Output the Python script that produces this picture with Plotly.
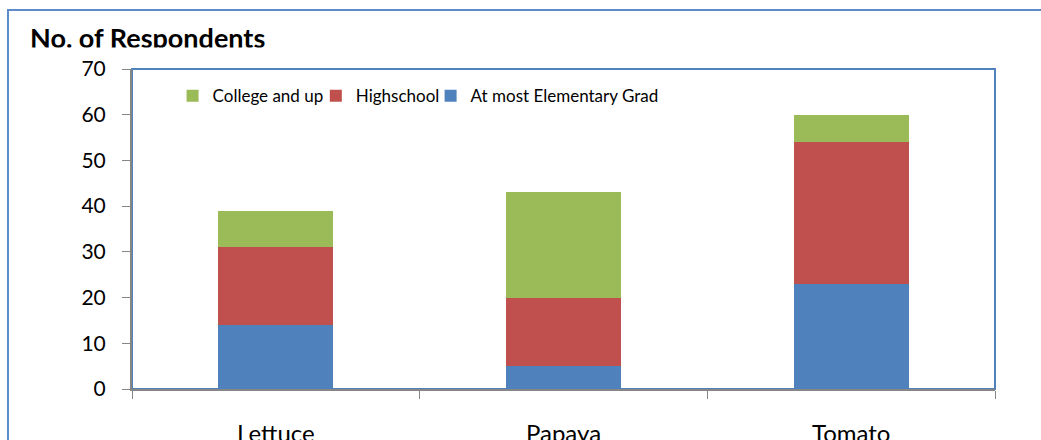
import plotly.graph_objects as go

categories = ["Lettuce", "Papaya", "Tomato"]
elementary = [14, 5, 23]
highschool = [17, 15, 31]
college = [8, 23, 6]
series_names = ["At most Elementary Grad", "Highschool", "College and up"]
series_colors = ["#4F81BD", "#C0504D", "#9BBB59"]
legend_ids = ["legend3", "legend2", "legend"]
y_ticks = [0, 10, 20, 30, 40, 50, 60, 70]

FONT = "Lato"

fig = go.Figure()
for name, vals, col, lg in zip(series_names, [elementary, highschool, college], series_colors, legend_ids):
    fig.add_trace(go.Bar(x=categories, y=vals, name=name, marker_color=col,
                         marker_line_width=0, width=0.4, legend=lg))

leg_common = dict(orientation="h", y=0.915, xanchor="left", yanchor="middle",
                  font=dict(size=17, family=FONT), bgcolor="rgba(0,0,0,0)", itemwidth=30)

fig.update_layout(
    width=1041, height=440,
    margin=dict(l=132, r=46, t=69, b=51, autoexpand=False),
    barmode="stack",
    plot_bgcolor="white", paper_bgcolor="white",
    font=dict(family=FONT, color="black"),
    legend=dict(x=0.047, **leg_common),
    legend2=dict(x=0.213, **leg_common),
    legend3=dict(x=0.346, **leg_common),
    showlegend=True,
)
fig.update_yaxes(range=[0, 70], tickvals=y_ticks, showgrid=False, zeroline=False,
                 showline=True, linecolor="#868686", linewidth=2, automargin=False,
                 ticks="outside", ticklen=8, tickcolor="#868686", tickwidth=1,
                 tickfont=dict(size=21, family=FONT), ticklabelstandoff=12)
fig.update_xaxes(showgrid=False, showline=True, linecolor="#868686", linewidth=2,
                 automargin=False,
                 ticks="outside", ticklen=8, tickcolor="#868686", tickwidth=1,
                 tickson="boundaries",
                 tickfont=dict(size=24, family=FONT), ticklabelstandoff=22)

# plot area border (top/right blue)
fig.add_shape(type="rect", xref="paper", yref="paper", x0=0, x1=1, y0=0, y1=1,
              line=dict(color="#4F81BD", width=2), layer="below")
# outer chart border
fig.add_shape(type="rect", xref="paper", yref="paper", x0=-0.1437, x1=1.3, y0=-0.3, y1=1.184,
              line=dict(color="#5B8BC9", width=2), layer="below")

fig.add_annotation(text="<b>No. of Respondents</b>", xref="paper", yref="paper",
                   x=-0.1205, y=1.0995, xanchor="left", yanchor="middle",
                   showarrow=False, font=dict(size=27, family=FONT, color="black"))
# white band that trims the bottom of the title, as in the original
fig.add_annotation(text=" ", xref="paper", yref="paper", x=-0.124, y=1.0688,
                   xanchor="left", yanchor="top", width=250, height=12,
                   bgcolor="white", borderpad=0, showarrow=False)

fig.write_html("out.html", post_script="document.body.style.margin='0';",
               config={"displayModeBar": False})
